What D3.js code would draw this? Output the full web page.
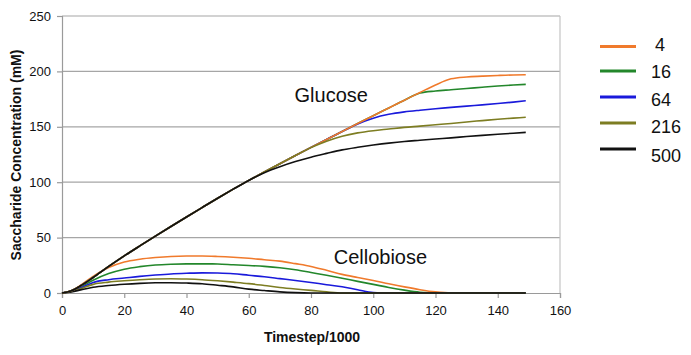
<!DOCTYPE html>
<html>
<head>
<meta charset="utf-8">
<script src="https://cdn.jsdelivr.net/npm/d3@7"></script>
<style>
  body { margin: 0; background: #fff; }
  text { font-family: "Liberation Sans", Arial, sans-serif; fill: #111; }
</style>
</head>
<body>
<div id="chart"></div>
<script>
// time axis (Timestep/1000) shared by every series
var timeSteps = [0, 3, 6, 10, 15, 20, 25, 30, 35, 40, 45, 50, 55, 60, 65, 70, 75, 80, 85, 90, 95, 100, 105, 110, 115, 120, 125, 130, 135, 140, 145, 149];

var seriesNames = ["4", "16", "64", "216", "500"];
var seriesColors = ["#f07a2c", "#23872b", "#1a1adb", "#7d7d22", "#111111"];

// Glucose (mM)
var glucose4   = [0, 2, 6.5, 14, 24, 33.5, 42.5, 51.3, 60, 68.6, 77.1, 85.5, 93.7, 101.6, 109.2, 116.7, 124.1, 131.4, 138.6, 145.8, 152.9, 160, 167, 174, 181, 187.8, 193.3, 195, 195.7, 196.3, 196.8, 197];
var glucose16  = [0, 2, 6.5, 14, 24, 33.5, 42.5, 51.3, 60, 68.6, 77.1, 85.5, 93.7, 101.6, 109.2, 116.7, 124.1, 131.4, 138.6, 145.8, 152.9, 160, 167, 174, 180.5, 182.3, 183.4, 184.5, 185.7, 186.8, 187.7, 188.3];
var glucose64  = [0, 2, 6.5, 14, 24, 33.5, 42.5, 51.3, 60, 68.6, 77.1, 85.5, 93.7, 101.6, 109.2, 116.7, 124.1, 131.4, 138.6, 145.8, 152.6, 157.8, 161.3, 163.5, 165, 166.3, 167.5, 168.7, 169.8, 171, 172.3, 173.5];
var glucose216 = [0, 2, 6.5, 14, 24, 33.5, 42.5, 51.3, 60, 68.6, 77.1, 85.5, 93.7, 101.6, 109.2, 116.7, 124.1, 131.2, 137, 141.5, 144.5, 146.5, 148, 149.5, 150.6, 151.8, 153, 154.4, 155.6, 156.8, 157.8, 158.6];
var glucose500 = [0, 2, 6.5, 14, 24, 33.5, 42.5, 51.3, 60, 68.6, 77.1, 85.5, 93.7, 101.6, 108.6, 114, 118.6, 122.6, 126, 129.2, 131.5, 133.5, 135.3, 136.8, 137.9, 139, 140, 141.2, 142.3, 143.3, 144.2, 145];

// Cellobiose (mM)
var cello4   = [0, 2, 7, 15, 23, 28, 30.5, 32, 33, 33.4, 33.4, 33, 32.3, 31.3, 30, 28.8, 26.5, 24, 20.5, 16.8, 14, 11.3, 8.3, 5.5, 3, 1, 0, 0, 0, 0, 0, 0];
var cello16  = [0, 1.8, 5.5, 11.5, 17.5, 21.5, 23.8, 25.3, 26, 26.3, 26.3, 26.2, 25.5, 24.8, 24, 22.8, 21, 18.5, 16, 13.3, 10.5, 7.8, 5, 2.6, 0.7, 0, 0, 0, 0, 0, 0, 0];
var cello64  = [0, 1.5, 4.5, 9.5, 12, 13.5, 15, 16.2, 17.2, 17.8, 18.2, 18, 17.4, 16, 14.7, 13, 11.3, 9.5, 7.5, 5.7, 3, 0.5, 0, 0, 0, 0, 0, 0, 0, 0, 0, 0];
var cello216 = [0, 1.3, 3.8, 7.8, 9.8, 11, 12, 12.7, 12.9, 12.6, 12, 11, 9.8, 8.5, 6.8, 5, 3.6, 2.4, 1, 0, 0, 0, 0, 0, 0, 0, 0, 0, 0, 0, 0, 0];
var cello500 = [0, 1, 2.8, 5.2, 6.8, 7.9, 8.7, 9.2, 9.3, 9, 8.4, 7, 5.5, 3.5, 2.2, 1, 0.3, 0, 0, 0, 0, 0, 0, 0, 0, 0, 0, 0, 0, 0, 0, 0];

var xTicks = [0, 20, 40, 60, 80, 100, 120, 140, 160];
var yTicks = [0, 50, 100, 150, 200, 250];

function init() {
    const w = 691;
    const h = 355;
    const m = { left: 62, right: 131, top: 16, bottom: 62 };

    var svg = d3.select("#chart")
        .append("svg")
        .attr("width", w)
        .attr("height", h);

    var xScale = d3.scaleLinear().domain([0, 160]).range([m.left, w - m.right]);
    var yScale = d3.scaleLinear().domain([0, 250]).range([h - m.bottom, m.top]);

    // gridlines
    svg.append("g")
        .selectAll("line")
        .data(yTicks.slice(1))
        .enter()
        .append("line")
        .attr("x1", xScale(0))
        .attr("x2", xScale(160))
        .attr("y1", (d) => yScale(d))
        .attr("y2", (d) => yScale(d))
        .attr("stroke", "#a6a6a6")
        .attr("stroke-width", 1.2);

    // right border of plot area
    svg.append("line")
        .attr("x1", xScale(160)).attr("x2", xScale(160))
        .attr("y1", yScale(250)).attr("y2", yScale(0))
        .attr("stroke", "#c4c4c4")
        .attr("stroke-width", 1.2);

    // axes
    var xAxis = svg.append("g")
        .attr("transform", "translate(0," + yScale(0) + ")")
        .call(d3.axisBottom(xScale).tickValues(xTicks).tickSize(5).tickPadding(8));
    var yAxis = svg.append("g")
        .attr("transform", "translate(" + xScale(0) + ",0)")
        .call(d3.axisLeft(yScale).tickValues(yTicks).tickSize(5).tickPadding(6));

    [xAxis, yAxis].forEach((a) => {
        a.select(".domain").attr("stroke", "#9a9a9a").attr("stroke-width", 1.2);
        a.selectAll(".tick line").attr("stroke", "#9a9a9a").attr("stroke-width", 1.2);
        a.selectAll(".tick text")
            .style("font-family", "'Liberation Sans', Arial, sans-serif")
            .style("font-size", "13px")
            .attr("fill", "#111");
    });

    var line = d3.line()
        .x((d) => xScale(d[0]))
        .y((d) => yScale(d[1]))
        .curve(d3.curveMonotoneX);

    var glucose = [glucose4, glucose16, glucose64, glucose216, glucose500];
    var cello = [cello4, cello16, cello64, cello216, cello500];

    // drawing order: later ones sit on top where curves overlap
    var order = [1, 2, 0, 3, 4];
    var plot = svg.append("g");
    cello.forEach((vals, i) => {
        plot.append("path")
            .datum(timeSteps.map((t, j) => [t, vals[j]]))
            .attr("d", line)
            .attr("fill", "none")
            .attr("stroke", seriesColors[i])
            .attr("stroke-width", 1.6);
    });
    order.forEach((i) => {
        plot.append("path")
            .datum(timeSteps.map((t, j) => [t, glucose[i][j]]))
            .attr("d", line)
            .attr("fill", "none")
            .attr("stroke", seriesColors[i])
            .attr("stroke-width", 1.6);
    });

    // curve labels
    svg.append("text")
        .attr("x", xScale(86.5))
        .attr("y", yScale(172))
        .attr("text-anchor", "middle")
        .style("font-size", "20px")
        .text("Glucose");
    svg.append("text")
        .attr("x", xScale(102.3))
        .attr("y", yScale(26))
        .attr("text-anchor", "middle")
        .style("font-size", "20px")
        .text("Cellobiose");

    // axis titles
    svg.append("text")
        .attr("x", 312)
        .attr("y", 342)
        .attr("text-anchor", "middle")
        .style("font-size", "14px")
        .style("font-weight", "bold")
        .text("Timestep/1000");
    svg.append("text")
        .attr("transform", "translate(21,155) rotate(-90)")
        .attr("text-anchor", "middle")
        .style("font-size", "14px")
        .style("font-weight", "bold")
        .text("Saccharide Concentration (mM)");

    // legend
    var legY = [46.5, 71, 97, 123, 149];
    var textY = [51, 78, 106, 133, 162];
    var leg = svg.append("g");
    seriesNames.forEach((name, i) => {
        leg.append("line")
            .attr("x1", 600).attr("x2", 636)
            .attr("y1", legY[i]).attr("y2", legY[i])
            .attr("stroke", seriesColors[i])
            .attr("stroke-width", 3);
        leg.append("text")
            .attr("x", i === 0 ? 655 : 651)
            .attr("y", textY[i])
            .style("font-size", "18px")
            .text(name);
    });
}
window.onload = init();
</script>
</body>
</html>
